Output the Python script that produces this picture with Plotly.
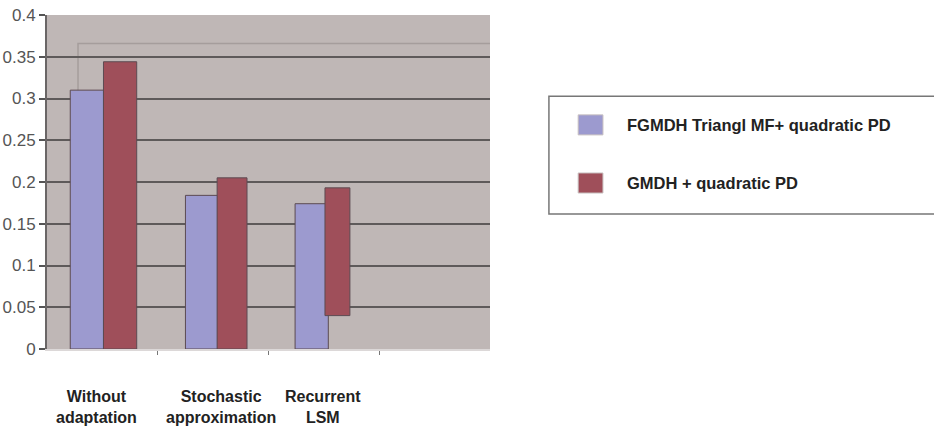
import plotly.graph_objects as go

# Categories (a fourth, empty slot is kept on the axis)
categories = ["Without<br>adaptation", "Stochastic<br>approximation", "Recurrent<br>LSM"]
series_names = ["FGMDH Triangl MF+ quadratic PD", "GMDH + quadratic PD"]
fgmdh_values = [0.310, 0.184, 0.174]
gmdh_values = [0.344, 0.205, 0.193]
gmdh_base = [0.0, 0.0, 0.040]
y_ticks = [0, 0.05, 0.1, 0.15, 0.2, 0.25, 0.3, 0.35, 0.4]
y_tick_text = ["0", "0.05", "0.1", "0.15", "0.2", "0.25", "0.3", "0.35", "0.4"]

BLUE = "#9c9acf"
RED = "#9f4f5a"
EDGE = "#5c4b52"
FONT = "Liberation Sans, Arial, sans-serif"

x_pos = list(range(len(categories)))
fig = go.Figure()
fig.add_bar(x=x_pos, y=fgmdh_values, name=series_names[0],
            marker=dict(color=BLUE, line=dict(color=EDGE, width=1)),
            offset=[-0.29, -0.25, -0.26], width=[0.3, 0.29, 0.3], showlegend=False)
fig.add_bar(x=x_pos, y=[v - b for v, b in zip(gmdh_values, gmdh_base)], base=gmdh_base,
            name=series_names[1],
            marker=dict(color=RED, line=dict(color=EDGE, width=1)),
            offset=[0.01, 0.036, 0.01], width=[0.3, 0.27, 0.225], showlegend=False)

# back-wall frame line behind the bars
fig.add_shape(type="path", xref="x", yref="y", layer="below",
              path="M -0.22,0 L -0.22,0.366 L 3.5,0.366",
              line=dict(color="#a59d9c", width=1.5))

# category labels under the axis
label_x = [-0.05, 1.07, 1.99]
for lx, txt in zip(label_x, categories):
    fig.add_annotation(x=lx, xref="x", y=-0.11, yref="paper", text="<b>%s</b>" % txt,
                       showarrow=False, yanchor="top", align="center",
                       font=dict(family=FONT, size=16, color="#222222"))

# legend box with swatches
fig.add_shape(type="path", xref="paper", yref="paper", layer="above",
              path="M 2.02,0.757 L 1.133,0.757 L 1.133,0.404 L 2.02,0.404",
              line=dict(color="#777777", width=1.5))
legend_y = [0.671, 0.497]
for ly, col, name in zip(legend_y, [BLUE, RED], series_names):
    fig.add_shape(type="rect", xref="paper", yref="paper",
                  x0=1.199, x1=1.255, y0=ly - 0.03, y1=ly + 0.03,
                  fillcolor=col, line=dict(color="#c8c0c0", width=1))
    fig.add_annotation(x=1.305, xref="paper", y=ly, yref="paper", text="<b>%s</b>" % name,
                       showarrow=False, xanchor="left", yanchor="middle",
                       font=dict(family=FONT, size=16.5, color="#222222"))

fig.update_layout(
    width=934, height=427,
    margin=dict(l=47, r=444, t=15, b=78),
    paper_bgcolor="white", plot_bgcolor="#bfb7b6",
    barmode="overlay", showlegend=False,
    font=dict(family=FONT),
)
fig.update_xaxes(range=[-0.5, 3.5], tickvals=[0.5, 1.5, 2.5], ticks="outside",
                 ticklen=4, tickcolor="#777777", showticklabels=False,
                 showgrid=False, zeroline=False, showline=True, automargin=False,
                 linecolor="#dcd8d8", linewidth=2)
fig.update_yaxes(range=[0, 0.4], tickvals=y_ticks, ticktext=y_tick_text,
                 ticks="outside", ticklen=6, tickcolor="#555555", tickwidth=2,
                 tickfont=dict(family=FONT, size=17, color="#555555"),
                 showgrid=True, gridcolor="#5e5a5a", gridwidth=2, automargin=False,
                 zeroline=False, showline=True, linecolor="#6a6666", linewidth=2)

fig.write_html("out.html")
